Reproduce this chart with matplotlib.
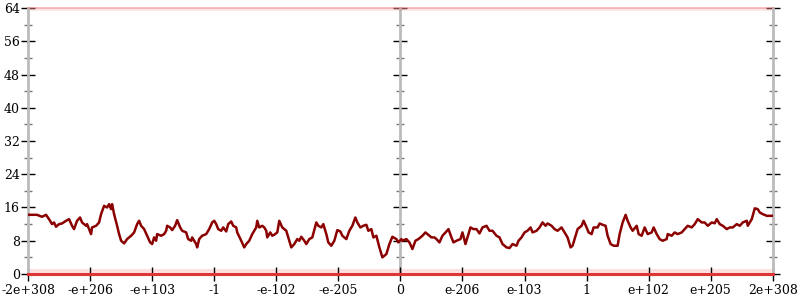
import numpy as np
import matplotlib
matplotlib.use("Agg")
import matplotlib.pyplot as plt

# position along the ordered float space (rank units, 0 = zero) and the measured value
pos = [-372, -363, -358, -354, -351, -348, -346, -344, -341, -338, -334, -331, -328, -326,
       -323, -320, -318, -314, -313, -309, -308, -304, -301, -299, -296, -293, -291, -289,
       -288, -286, -283, -281, -279, -276, -273, -269, -266, -263, -261, -259, -256, -253,
       -250, -248, -246, -244, -243, -239, -236, -234, -233, -230, -228, -225, -223, -220,
       -218, -214, -212, -209, -208, -204, -203, -201, -198, -194, -191, -188, -186, -184,
       -182, -179, -177, -174, -172, -169, -167, -164, -163, -159, -156, -154, -151, -148,
       -144, -143, -141, -138, -136, -134, -133, -130, -128, -126, -123, -121, -118, -114,
       -112, -109, -106, -103, -101, -99, -96, -94, -91, -88, -84, -82, -79, -77, -74, -72,
       -69, -66, -63, -60, -58, -54, -51, -48, -45, -43, -40, -37, -34, -32, -29, -27, -24,
       -21, -18, -14, -11, -8, -4, -2, 1, 2, 6, 9, 12, 15, 18, 22, 25, 27, 31, 34, 36, 39,
       42, 46, 48, 51, 53, 56, 60, 62, 65, 67, 70, 73, 76, 79, 82, 86, 89, 92, 96, 99, 102,
       106, 109, 112, 116, 118, 121, 124, 127, 130, 132, 136, 139, 142, 145, 147, 151, 154,
       157, 161, 164, 167, 170, 172, 174, 177, 181, 183, 186, 188, 191, 193, 197, 199, 202,
       205, 207, 210, 213, 217, 219, 222, 225, 227, 230, 232, 236, 238, 241, 244, 247, 251,
       253, 256, 259, 262, 266, 267, 271, 274, 277, 281, 284, 287, 291, 294, 297, 301, 304,
       307, 311, 314, 316, 319, 322, 326, 329, 332, 336, 339, 342, 346, 347, 351, 354, 357,
       359, 362, 366, 372]
bits = [14.24, 14.24, 13.76, 14.24, 13.2, 12.0, 12.4, 11.36, 12.0, 12.16, 12.8, 13.2, 11.6, 10.8,
        12.8, 13.6, 12.4, 11.6, 12.0, 9.6, 11.2, 11.6, 12.4, 14.4, 16.4, 16.0, 16.8, 15.6,
        16.8, 14.4, 11.6, 9.6, 8.0, 7.36, 8.4, 9.2, 10.0, 12.0, 12.8, 11.6, 10.8, 9.2,
        7.6, 7.2, 8.8, 8.0, 9.6, 9.2, 9.6, 10.4, 11.6, 11.2, 10.56, 11.6, 12.96, 11.2,
        10.4, 10.0, 8.4, 8.0, 8.8, 7.2, 6.4, 8.4, 9.2, 9.6, 10.8, 12.4, 12.8, 12.0,
        10.8, 10.4, 11.2, 10.24, 12.0, 12.64, 11.6, 11.2, 10.0, 8.0, 6.4, 7.2, 8.0, 9.6,
        11.2, 12.8, 11.2, 11.6, 11.2, 10.4, 8.8, 10.0, 9.2, 9.44, 10.0, 12.8, 11.2, 10.4,
        8.8, 6.4, 7.2, 8.4, 8.0, 8.96, 8.0, 7.2, 8.4, 8.8, 12.4, 11.6, 11.2, 12.0, 9.6, 7.6,
        6.8, 8.0, 10.56, 10.24, 9.2, 8.4, 10.4, 11.6, 13.6, 12.4, 11.2, 11.6, 11.84, 10.4, 10.8, 8.8, 9.2,
        6.4, 4.0, 4.8, 7.2, 8.96, 8.4, 7.6, 8.4, 8.0, 8.4, 7.6, 6.0, 8.0, 8.4, 9.2, 10.0, 9.6, 8.8, 8.8, 8.4, 7.6,
        9.2, 10.24, 10.8, 8.8, 7.6, 8.0, 8.4, 10.0, 7.2, 8.8, 11.2, 10.8, 10.8, 9.76, 11.2, 11.6, 10.4, 10.4, 9.2, 8.8, 7.2,
        6.4, 6.24, 7.2, 6.8, 8.0, 8.8, 10.0, 10.4, 11.2, 10.0, 10.4, 11.2, 12.4, 11.6, 12.16, 11.6, 10.8,
        10.4, 11.2, 10.0, 8.8, 6.4, 6.8, 8.4, 10.8, 11.6, 12.8, 11.2, 10.0, 9.6, 11.2, 11.2, 12.16, 11.84,
        11.6, 9.2, 7.2, 6.8, 6.8, 9.6, 12.4, 14.24, 12.8, 11.2, 10.4, 11.6, 9.6, 9.2, 11.2, 9.6, 10.0,
        11.2, 9.6, 8.4, 8.0, 8.4, 9.6, 9.2, 10.0, 9.6, 10.0, 10.8, 11.6, 11.2, 12.0, 13.2, 12.4, 12.4,
        11.6, 12.4, 12.2, 13.2, 12.0, 11.6, 10.8, 11.2, 11.2, 12.0, 11.6, 12.4, 12.8, 11.6, 13.2, 15.8, 15.6,
        14.8, 14.4, 14.0, 14.0]

# bands of raw samples (low counts and full 64-bit counts)
low_band = [0.0, 1.3]
high_band = [63.3, 64.0]

tick_labels = ["-2e+308", "-e+206", "-e+103", "-1", "-e-102", "-e-205", "0",
               "e-206", "e-103", "1", "e+102", "e+205", "2e+308"]

plt.rcParams['font.family'] = 'DejaVu Serif'

fig = plt.figure(figsize=(8, 3), dpi=100)
ax = fig.add_axes([0.035, 0.0867, 0.931, 0.8866])

xmin, xmax = -372, 372
ax.set_xlim(xmin, xmax)
ax.set_ylim(0, 64)

# faint scatter bands
ax.fill_between([xmin, xmax], low_band[0], low_band[1], color='#f04040', alpha=0.16, lw=0)
ax.fill_between([xmin, xmax], high_band[0], high_band[1], color='#f04040', alpha=0.12, lw=0)
ax.plot([xmin, xmax], [low_band[0], low_band[0]], color='#e03535', lw=2.2, clip_on=False, zorder=3)
ax.plot([xmin, xmax], [high_band[1], high_band[1]], color='#f08080', lw=1.2, alpha=0.6, clip_on=False, zorder=3)

ax.plot(pos, bits, color='#8b0000', lw=1.8, zorder=4)

for s in ['top', 'bottom']:
    ax.spines[s].set_visible(False)
for s in ['left', 'right']:
    ax.spines[s].set_color('#bbbbbb')
    ax.spines[s].set_linewidth(2)

ax.set_xticks(np.linspace(xmin, xmax, 13))
ax.set_xticklabels(tick_labels, fontsize=9)
ax.set_yticks(np.arange(0, 65, 8))
ax.set_yticks(np.arange(4, 64, 8), minor=True)
ax.tick_params(axis='y', which='major', direction='inout', length=10, width=1,
               left=True, right=True, labelsize=9, pad=1)
ax.tick_params(axis='y', which='minor', direction='inout', length=6, width=1,
               left=True, right=True, color='#777777')
ax.tick_params(axis='x', direction='inout', length=10, width=1, pad=2)

# vertical axis through zero
mid = ax.secondary_yaxis(0.5)
for s in mid.spines.values():
    s.set_color('#bbbbbb')
    s.set_linewidth(2)
mid.set_yticks(np.arange(0, 65, 8))
mid.set_yticks(np.arange(4, 64, 8), minor=True)
mid.set_yticklabels([])
mid.tick_params(which='major', direction='inout', length=10, width=1, color='black',
                labelleft=False, labelright=False)
mid.tick_params(which='minor', direction='inout', length=6, width=1, color='#777777')

fig.savefig('out.png', dpi=100)
